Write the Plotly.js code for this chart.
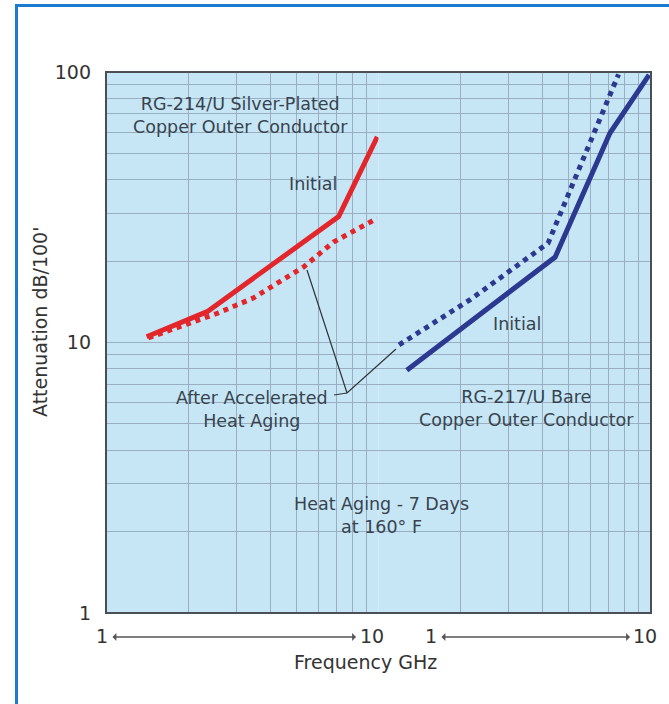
<!DOCTYPE html>
<html>
<head>
<meta charset="utf-8">
<script src="https://cdn.plot.ly/plotly-3.0.1.min.js"></script>
<style>html,body{margin:0;padding:0;background:#fff;}#chart{width:669px;height:704px;}</style>
</head>
<body>
<div id="chart"></div>
<script>
// RG-214/U Silver-Plated (left decade, frequency in GHz, attenuation dB/100')
const rg214InitFreq = [1.41, 2.35, 7.14, 9.9];
const rg214InitAtt  = [10.5, 13.0, 29.2, 57.6];
const rg214AgedFreq = [1.43, 2.55, 3.47, 5.3, 6.83, 9.89];
const rg214AgedAtt  = [10.4, 12.8, 14.6, 19.0, 23.5, 28.8];
// RG-217/U Bare Copper (right decade)
const rg217InitFreq = [1.27, 4.45, 7.07, 9.84];
const rg217InitAtt  = [7.9, 20.7, 59.5, 97.5];
const rg217AgedFreq = [1.19, 2.17, 4.19, 7.6];
const rg217AgedAtt  = [9.8, 14.4, 23.3, 98];
// axis ticks
const yDecades = [1, 10, 100];
const yTickLabels = ["1", "10", "100"];
const xTickLabels = ["1", "10", "1", "10"];

const RED = "#e3262b", BLUE = "#2b3990", TXT = "#38434e";
const FONT = "DejaVu Sans";

// grid values (log minor grid)
const yGrid = [], yGridText = [];
for (let d = 0; d < yDecades.length - 1; d++) {
  for (let m = 1; m < 10; m++) {
    const v = yDecades[d] * m;
    yGrid.push(v);
    yGridText.push(m === 1 ? yTickLabels[d] : "");
  }
}
yGrid.push(yDecades[yDecades.length - 1]);
yGridText.push(yTickLabels[yTickLabels.length - 1]);
const xGrid = [1,2,3,4,5,6,7,8,9,10];

const traces = [
  {x: rg214InitFreq, y: rg214InitAtt, xaxis: "x", yaxis: "y", mode: "lines",
   line: {color: RED, width: 5}, name: "RG-214/U Initial"},
  {x: rg214AgedFreq, y: rg214AgedAtt, xaxis: "x", yaxis: "y", mode: "lines",
   line: {color: RED, width: 5, dash: "5px,5px"}, name: "RG-214/U Aged"},
  {x: rg217InitFreq, y: rg217InitAtt, xaxis: "x2", yaxis: "y", mode: "lines",
   line: {color: BLUE, width: 5}, name: "RG-217/U Initial"},
  {x: rg217AgedFreq, y: rg217AgedAtt, xaxis: "x2", yaxis: "y", mode: "lines",
   line: {color: BLUE, width: 5, dash: "5px,5px"}, name: "RG-217/U Aged"}
];

const gridColor = "#9aaec2";
const xCommon = {type: "log", range: [0, 1], tickvals: xGrid, showticklabels: false,
  showgrid: true, gridcolor: gridColor, gridwidth: 1, zeroline: false, showline: false,
  ticks: "", fixedrange: true};

function px(x){ return (x - 106) / 545; }
function py(y){ return (613 - y) / 541; }

const ann = (x, y, text, extra) => Object.assign({xref: "paper", yref: "paper", x: px(x), y: py(y),
  text: text, showarrow: false, xanchor: "center", yanchor: "middle",
  font: {family: FONT, size: 17.5, color: TXT}}, extra || {});

const annotations = [
  ann(240, 115, "RG-214/U Silver-Plated<br>Copper Outer Conductor"),
  ann(313, 184, "Initial"),
  ann(252, 409, "After Accelerated<br>Heat Aging"),
  ann(381, 515, "Heat Aging - 7 Days<br>at 160° F"),
  ann(526, 408, "RG-217/U Bare<br>Copper Outer Conductor"),
  ann(517, 324, "Initial"),
  ann(365, 662, "Frequency GHz", {font: {family: FONT, size: 19, color: "#333"}}),
  // y axis title
  ann(40, 322, "Attenuation dB/100'", {textangle: -90, font: {family: FONT, size: 19, color: "#333"}}),
  // x tick labels for the two decades
  ann(102, 636, xTickLabels[0], {font: {family: FONT, size: 19, color: "#333"}}),
  ann(372, 636, xTickLabels[1], {font: {family: FONT, size: 19, color: "#333"}}),
  ann(431, 636, xTickLabels[2], {font: {family: FONT, size: 19, color: "#333"}}),
  ann(645, 636, xTickLabels[3], {font: {family: FONT, size: 19, color: "#333"}}),
  // range arrows
  {xref: "paper", yref: "paper", x: px(356), y: py(637), ax: -245, ay: 0, text: "",
   showarrow: true, arrowside: "end+start", arrowhead: 1, startarrowhead: 1,
   arrowsize: 1, startarrowsize: 1, arrowwidth: 1.3, arrowcolor: "#555"},
  {xref: "paper", yref: "paper", x: px(630), y: py(637), ax: -190, ay: 0, text: "",
   showarrow: true, arrowside: "end+start", arrowhead: 1, startarrowhead: 1,
   arrowsize: 1, startarrowsize: 1, arrowwidth: 1.3, arrowcolor: "#555"}
];

const shapes = [
  // leader lines
  {type: "path", xref: "paper", yref: "paper",
   path: `M ${px(307)} ${py(270)} L ${px(347)} ${py(393)} L ${px(396)} ${py(349)}`,
   line: {color: "#2e3338", width: 1.2}},
  {type: "line", xref: "paper", yref: "paper", x0: px(334), y0: py(395), x1: px(347), y1: py(393),
   line: {color: "#2e3338", width: 1.2}},
  // plot border
  {type: "rect", xref: "paper", yref: "paper", x0: 0, x1: 1, y0: 0, y1: 1,
   line: {color: "#4a4f55", width: 2}, fillcolor: "rgba(0,0,0,0)", layer: "above"},
  // outer blue frame
  {type: "rect", xref: "paper", yref: "paper", x0: px(16.5), x1: px(700), y0: py(740), y1: py(5.5),
   line: {color: "#1b7bd0", width: 3}, fillcolor: "rgba(0,0,0,0)", layer: "above"}
];

const layout = {
  width: 669, height: 704,
  margin: {l: 106, r: 18, t: 72, b: 91},
  paper_bgcolor: "#ffffff",
  plot_bgcolor: "#c6e6f5",
  showlegend: false,
  font: {family: FONT, color: "#333"},
  xaxis: Object.assign({domain: [0, 0.5], anchor: "y"}, xCommon),
  xaxis2: Object.assign({domain: [0.5, 1], anchor: "y"}, xCommon),
  yaxis: {type: "log", range: [0, 2], tickvals: yGrid, ticktext: yGridText,
    showgrid: true, gridcolor: gridColor, gridwidth: 1, zeroline: false, showline: false,
    ticks: "", ticklabelstandoff: 14, tickfont: {family: FONT, size: 19, color: "#333"},
    fixedrange: true},
  annotations: annotations,
  shapes: shapes
};

Plotly.newPlot("chart", traces, layout, {displayModeBar: false, staticPlot: true});
</script>
</body>
</html>
